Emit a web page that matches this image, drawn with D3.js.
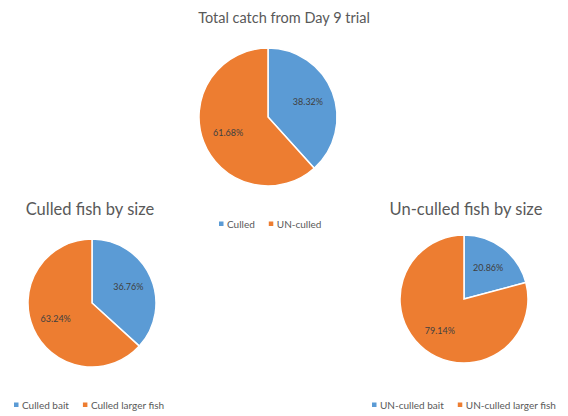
<!DOCTYPE html>
<html><head><meta charset="utf-8">
<script src="https://cdn.jsdelivr.net/npm/d3@7"></script>
<style>body{margin:0;background:#fff}svg{display:block}text{font-family:Lato,"Open Sans",sans-serif}</style>
</head><body>
<svg id="c" width="568" height="416"></svg>
<script>
const titles = ["Total catch from Day 9 trial", "Culled fish by size", "Un-culled fish by size"];
const categoriesTotal = ["Culled", "UN-culled"];
const valuesTotal = [38.32, 61.68];
const categoriesCulled = ["Culled bait", "Culled larger fish"];
const valuesCulled = [36.76, 63.24];
const categoriesUnculled = ["UN-culled bait", "UN-culled larger fish"];
const valuesUnculled = [20.86, 79.14];

const colors = ["#5B9BD5", "#ED7D31"];
const svg = d3.select("#c");

const charts = [
  {title: titles[0], fs: 14.5, cats: categoriesTotal, vals: valuesTotal, cx: 268, cy: 117, r: 69, tx: 284, ty: 23, ly: 225, lx: 219, gap: 14},
  {title: titles[1], fs: 16.5, cats: categoriesCulled, vals: valuesCulled, cx: 92, cy: 303, r: 64, tx: 90, ty: 215, ly: 406, lx: 14, gap: 14},
  {title: titles[2], fs: 16.5, cats: categoriesUnculled, vals: valuesUnculled, cx: 464, cy: 299, r: 64, tx: 466, ty: 215, ly: 406, lx: 372, gap: 14}
];

charts.forEach(ch => {
  svg.append("text").attr("x", ch.tx).attr("y", ch.ty).attr("text-anchor", "middle")
    .attr("font-size", ch.fs).attr("fill", "#595959").text(ch.title);
  const pie = d3.pie().sort(null).value(d => d)(ch.vals);
  const arc = d3.arc().innerRadius(0).outerRadius(ch.r);
  const labelArc = d3.arc().innerRadius(ch.r * 0.62).outerRadius(ch.r * 0.62);
  const g = svg.append("g").attr("transform", `translate(${ch.cx},${ch.cy})`);
  g.selectAll("path").data(pie).join("path")
    .attr("d", arc).attr("fill", (d, i) => colors[i])
    .attr("stroke", "#fff").attr("stroke-width", 1.5);
  g.selectAll("text").data(pie).join("text")
    .attr("transform", d => `translate(${labelArc.centroid(d)})`)
    .attr("text-anchor", "middle").attr("dy", "0.35em")
    .attr("font-size", 9).attr("fill", "#404040")
    .text(d => d.data.toFixed(2) + "%");
  const lg = svg.append("g").attr("transform", `translate(${ch.lx},${ch.ly})`);
  let x = 0;
  ch.cats.forEach((c, i) => {
    lg.append("rect").attr("x", x).attr("y", -3.5).attr("width", 4.5).attr("height", 4.5).attr("fill", colors[i]);
    const t = lg.append("text").attr("x", x + 8).attr("y", 0).attr("dy", "0.3em")
      .attr("font-size", 10).attr("fill", "#595959").text(c);
    x += 8 + t.node().getComputedTextLength() + ch.gap;
  });
});
</script>
</body></html>
